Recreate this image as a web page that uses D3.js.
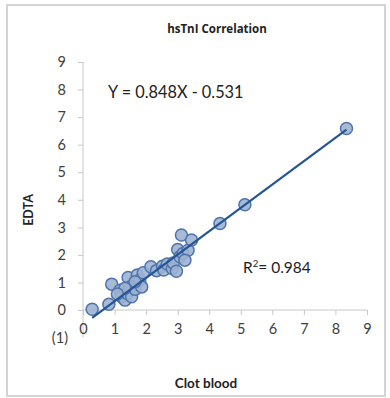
<!DOCTYPE html>
<html>
<head>
<meta charset="utf-8">
<script src="https://cdn.jsdelivr.net/npm/d3@7"></script>
<style>
  html, body { margin: 0; padding: 0; background: #fff; }
  svg { display: block; }
</style>
</head>
<body>
<svg id="chart" width="390" height="398"></svg>
<script>
// hsTnI measured in clot blood (x) vs EDTA plasma (y)
const clotBlood = [0.29, 0.82, 0.91, 1.17, 1.22, 1.33, 1.43, 1.40, 1.49, 1.54, 1.65, 1.72, 1.80, 1.86, 1.65, 1.33, 1.09,
                   1.91, 2.15, 2.33, 2.52, 2.56, 2.67, 2.83, 2.86, 3.00, 3.12, 3.07, 3.17, 3.33, 3.44, 3.23, 2.96,
                   4.34, 5.13, 8.35];
const edta      = [0.03, 0.21, 0.94, 0.72, 0.48, 0.36, 1.18, 0.60, 0.84, 0.48, 0.75, 1.27, 1.09, 0.84, 1.03, 0.79, 0.58,
                   1.35, 1.57, 1.43, 1.59, 1.45, 1.67, 1.51, 1.71, 2.20, 2.72, 1.93, 2.05, 2.17, 2.54, 1.81, 1.41,
                   3.14, 3.82, 6.59];

// Linear fit reported on the chart
const slope = [0.848];
const intercept = [-0.531];
const rSquared = ["0.984"];

const xTicks = [0, 1, 2, 3, 4, 5, 6, 7, 8, 9];
const yTicks = [-1, 0, 1, 2, 3, 4, 5, 6, 7, 8, 9];
const yTickLabels = ["(1)", "0", "1", "2", "3", "4", "5", "6", "7", "8", "9"];

const svg = d3.select("#chart");
const font = "Lato, 'Open Sans', sans-serif";
const textColor = "#404040";
const axisColor = "#c8c8c8";

// outer chart frame
svg.append("rect")
  .attr("x", 7).attr("y", 5).attr("width", 378).attr("height", 391)
  .attr("fill", "#fff").attr("stroke", "#d4d4d4").attr("stroke-width", 2);

const x = d3.scaleLinear().domain([0, 9]).range([83, 367]);
const y = d3.scaleLinear().domain([-1, 9]).range([337.6, 62]);

// vertical axis
const yAxis = d3.axisLeft(y).tickValues(yTicks).tickSize(5)
  .tickFormat((d, i) => yTickLabels[i]);
const gy = svg.append("g").attr("transform", `translate(${x(0)},0)`).call(yAxis);
gy.select(".domain").attr("stroke", axisColor).attr("d", `M0,${y(-1)}V${y(9)}`);
gy.selectAll(".tick line").attr("stroke", axisColor);
gy.selectAll(".tick").filter(d => d === -1).select("line").remove();
gy.selectAll(".tick text")
  .attr("x", -17)
  .attr("fill", textColor).attr("font-family", font).attr("font-size", 14.5);
gy.selectAll(".tick").filter(d => d === -1).select("text").attr("x", -15);

// horizontal axis crossing at y = 0
const xAxis = d3.axisBottom(x).tickValues(xTicks).tickSize(5).tickFormat(d3.format("d"));
const gx = svg.append("g").attr("transform", `translate(0,${y(0)})`).call(xAxis);
gx.select(".domain").attr("stroke", axisColor).attr("d", `M${x(0)},0H${x(9)}`);
gx.selectAll(".tick line").attr("stroke", axisColor);
gx.selectAll(".tick text")
  .attr("y", 14)
  .attr("fill", textColor).attr("font-family", font).attr("font-size", 14.5);

// data points
svg.append("g").selectAll("circle")
  .data(clotBlood.map((v, i) => [v, edta[i]]))
  .join("circle")
  .attr("cx", d => x(d[0]))
  .attr("cy", d => y(d[1]))
  .attr("r", 6)
  .attr("fill", "#9db2d2")
  .attr("fill-opacity", 0.9)
  .attr("stroke", "#4f74ad")
  .attr("stroke-width", 1.5);

// regression line across the data range
const xMin = d3.min(clotBlood), xMax = d3.max(clotBlood);
const fit = v => slope[0] * v + intercept[0];
svg.append("line")
  .attr("x1", x(xMin)).attr("y1", y(fit(xMin)))
  .attr("x2", x(xMax)).attr("y2", y(fit(xMax)))
  .attr("stroke", "#255592").attr("stroke-width", 2.2);

// title
svg.append("text")
  .attr("x", 217).attr("y", 33).attr("text-anchor", "middle")
  .attr("font-family", "'Open Sans', sans-serif").attr("font-weight", "bold").attr("font-size", 11.5)
  .attr("fill", "#222").text("hsTnI Correlation");

// fit annotations
svg.append("text")
  .attr("x", 108).attr("y", 98)
  .attr("font-family", font).attr("font-size", 16.3).attr("fill", "#222")
  .text(`Y = ${slope[0].toFixed(3)}X - ${Math.abs(intercept[0]).toFixed(3)}`);

const r2 = svg.append("text")
  .attr("x", 243).attr("y", 273)
  .attr("font-family", font).attr("font-size", 15.5).attr("fill", "#222");
r2.append("tspan").text("R");
r2.append("tspan").attr("dy", -6).attr("font-size", 9.5).text("2");
r2.append("tspan").attr("dy", 6).text(`= ${rSquared[0]}`);

// axis titles
svg.append("text")
  .attr("transform", "translate(33,210) rotate(-90)")
  .attr("text-anchor", "middle")
  .attr("font-family", font).attr("font-weight", "bold").attr("font-size", 12.5)
  .attr("fill", "#222").text("EDTA");

svg.append("text")
  .attr("x", 206).attr("y", 388).attr("text-anchor", "middle")
  .attr("font-family", font).attr("font-weight", "bold").attr("font-size", 13.5)
  .attr("fill", "#222").text("Clot blood");
</script>
</body>
</html>
